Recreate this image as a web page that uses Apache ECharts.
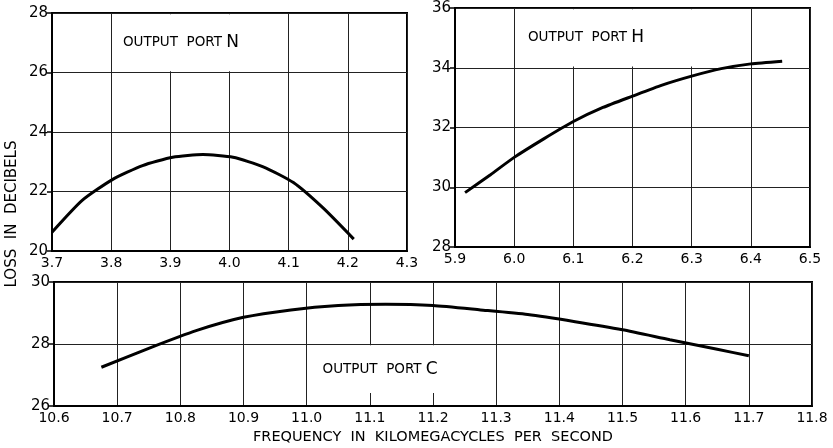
<!DOCTYPE html>
<html>
<head>
<meta charset="utf-8">
<script src="https://cdn.jsdelivr.net/npm/echarts@6/dist/echarts.min.js"></script>
<style>
  html, body { margin: 0; padding: 0; background: #fff; }
  #chart { width: 833px; height: 448px; }
</style>
</head>
<body>
<div id="chart"></div>
<script>
// port N (3.7 - 4.3 kMc)
const freqN = [3.700, 3.751, 3.802, 3.853, 3.904, 3.955, 4.006, 4.057, 4.108, 4.159, 4.210];
const lossN = [20.63, 21.7, 22.4, 22.87, 23.15, 23.24, 23.15, 22.83, 22.3, 21.43, 20.4];

// port H (5.9 - 6.5 kMc)
const freqH = [5.917, 5.96, 6.0, 6.05, 6.1, 6.15, 6.2, 6.25, 6.3, 6.35, 6.4, 6.453];
const lossH = [29.82, 30.42, 31.0, 31.62, 32.2, 32.67, 33.05, 33.42, 33.72, 33.97, 34.13, 34.22];

// port C (10.6 - 11.8 kMc)
const freqC = [10.675, 10.75, 10.825, 10.9, 10.975, 11.05, 11.125, 11.2, 11.275, 11.35, 11.425, 11.5, 11.575, 11.65, 11.7];
const lossC = [27.25, 27.86, 28.43, 28.86, 29.1, 29.24, 29.28, 29.24, 29.1, 28.95, 28.72, 28.46, 28.14, 27.83, 27.62];

// label boxes: [xFrom, xTo, yFrom, yTo]
const boxN = [3.8, 4.1, 26, 28];
const boxH = [6.0, 6.4, 34, 36];
const boxC = [11.0, 11.3, 26.38, 28];

const FONT = "DejaVu Sans";
const INK = "#000";

const chart = echarts.init(document.getElementById("chart"));

const xAxisBase = (gridIndex, min, max, extra) => Object.assign({
  type: "value",
  gridIndex,
  min,
  max,
  interval: 0.1,
  axisLine: { show: true, lineStyle: { color: INK, width: 2 } },
  axisTick: { show: false },
  splitLine: { show: true, lineStyle: { color: "#222", width: 1 } },
  axisLabel: {
    color: INK,
    fontFamily: FONT,
    fontSize: 14,
    margin: 5,
    formatter: (v) => v.toFixed(1),
  },
}, extra || {});

const yAxisBase = (gridIndex, min, max) => ({
  type: "value",
  gridIndex,
  min,
  max,
  interval: 2,
  axisLine: { show: true, lineStyle: { color: INK, width: 2 } },
  axisTick: { show: true, length: 5, lineStyle: { color: INK, width: 1.5 } },
  splitLine: { show: true, lineStyle: { color: "#222", width: 1 } },
  axisLabel: { color: INK, fontFamily: FONT, fontSize: 15, margin: 4 },
});

const labelBox = (box, letter, pad) => ({
  silent: true,
  itemStyle: { color: "#fff", opacity: 1 },
  label: {
    show: true,
    position: "insideLeft",
    distance: pad,
    formatter: "{a|OUTPUT  PORT }{b|" + letter + "}",
    rich: {
      a: { fontFamily: FONT, fontSize: 13.5, color: INK },
      b: { fontFamily: FONT, fontSize: 17, color: INK },
    },
  },
  data: [[
    { xAxis: box[0] + 0.003, yAxis: box[2] + 0.04 },
    { xAxis: box[1] - 0.003, yAxis: box[3] - 0.04 },
  ]],
});

const curve = (idx, xs, ys, box, letter, pad) => ({
  type: "line",
  xAxisIndex: idx,
  yAxisIndex: idx,
  data: xs.map((x, i) => [x, ys[i]]),
  smooth: 0.2,
  showSymbol: false,
  lineStyle: { color: INK, width: 3 },
  markArea: labelBox(box, letter, pad),
});

const frame = { show: true, borderColor: INK, borderWidth: 2, backgroundColor: "#fff" };

chart.setOption({
  backgroundColor: "#fff",
  animation: false,
  grid: [
    Object.assign({ left: 52, right: 426, top: 13, bottom: 197 }, frame),
    Object.assign({ left: 455, right: 23, top: 8, bottom: 201 }, frame),
    Object.assign({ left: 54, right: 21, top: 282, bottom: 42 }, frame),
  ],
  xAxis: [
    xAxisBase(0, 3.7, 4.3),
    xAxisBase(1, 5.9, 6.5),
    xAxisBase(2, 10.6, 11.8, {
      name: "FREQUENCY  IN  KILOMEGACYCLES  PER  SECOND",
      nameLocation: "middle",
      nameGap: 24,
      nameTextStyle: { color: INK, fontFamily: FONT, fontSize: 14.5 },
    }),
  ],
  yAxis: [
    yAxisBase(0, 20, 28),
    yAxisBase(1, 28, 36),
    yAxisBase(2, 26, 30),
  ],
  graphic: [{
    type: "text",
    x: 12,
    y: 214,
    rotation: Math.PI / 2,
    style: {
      text: "LOSS  IN  DECIBELS",
      fill: INK,
      font: "15px " + FONT,
      align: "center",
      verticalAlign: "middle",
    },
  }],
  series: [
    curve(0, freqN, lossN, boxN, "N", 10),
    curve(1, freqH, lossH, boxH, "H", 12),
    curve(2, freqC, lossC, boxC, "C", 14),
  ],
});
</script>
</body>
</html>
